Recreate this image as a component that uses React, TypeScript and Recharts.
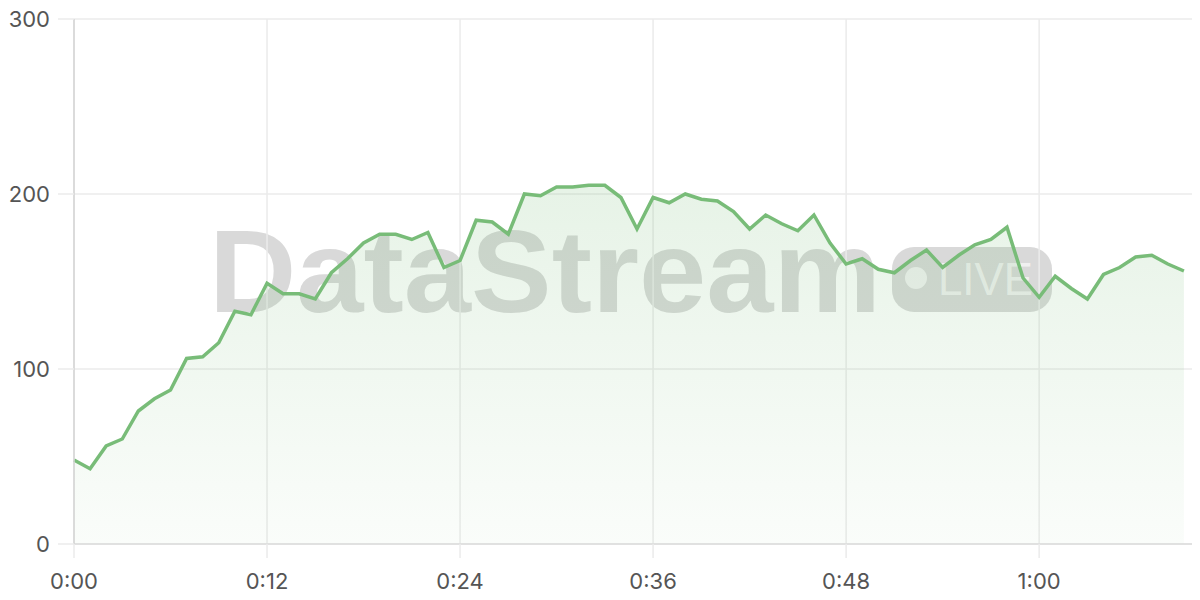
import { AreaChart, Area, XAxis, YAxis, CartesianGrid } from "recharts";

// one reading per second, 0:00 .. 1:09
const VALUES = [
  48, 43, 56, 60, 76, 83, 88, 106, 107, 115,
  133, 131, 149, 143, 143, 140, 155, 163, 172, 177,
  177, 174, 178, 158, 162, 185, 184, 177, 200, 199,
  204, 204, 205, 205, 198, 180, 198, 195, 200, 197,
  196, 190, 180, 188, 183, 179, 188, 172, 160, 163,
  157, 155, 162, 168, 158, 165, 171, 174, 181, 152,
  141, 153, 146, 140, 154, 158, 164, 165, 160, 156,
];

const X_TICKS = [0, 12, 24, 36, 48, 60];
const Y_TICKS = [0, 100, 200, 300];

const LINE = "#78bc78";
const GRID = "#ebebeb";
const FONT = "Inter, 'Noto Sans', sans-serif";

const data = VALUES.map((v, i) => ({ t: i, v }));

function clock(s: number): string {
  const m = Math.floor(s / 60);
  const r = s % 60;
  return `${m}:${r < 10 ? "0" : ""}${r}`;
}

function Watermark() {
  return (
    <svg width={1200} height={600} style={{ position: "absolute", left: 0, top: 0 }}>
      <text
        x={209}
        y={312}
        fontFamily="'Liberation Sans', Arial, sans-serif"
        fontWeight={700}
        fontSize={117}
        textLength={672}
        lengthAdjust="spacingAndGlyphs"
        fill="rgba(120,120,120,0.28)"
      >
        DataStream
      </text>
      <rect x={892} y={247} width={160} height={65} rx={22} fill="rgba(120,120,120,0.28)" />
      <circle cx={916} cy={278} r={11} fill="rgba(255,255,255,0.65)" />
      <text
        x={938}
        y={295}
        fontFamily="'Liberation Sans', Arial, sans-serif"
        fontSize={46}
        textLength={95}
        lengthAdjust="spacingAndGlyphs"
        fill="rgba(255,255,255,0.65)"
      >
        LIVE
      </text>
    </svg>
  );
}

export default function App() {
  return (
    <div style={{ position: "relative", width: 1200, height: 600, margin: -8, background: "#fff" }}>
      <Watermark />
      <div style={{ position: "absolute", left: 0, top: 0 }}>
        <AreaChart width={1200} height={600} data={data} margin={{ top: 19, right: 0, left: 0, bottom: 0 }}>
          <defs>
            <linearGradient id="fill" x1="0" y1="0" x2="0" y2="1">
              <stop offset="0%" stopColor={LINE} stopOpacity={0.3} />
              <stop offset="100%" stopColor={LINE} stopOpacity={0.06} />
            </linearGradient>
          </defs>
          <CartesianGrid stroke={GRID} strokeWidth={1.5} />
          <XAxis
            dataKey="t"
            type="number"
            domain={[0, 70]}
            ticks={X_TICKS}
            tickFormatter={clock}
            height={56}
            tickSize={14}
            tickMargin={15}
            tickLine={{ stroke: GRID, strokeWidth: 1.5 }}
            axisLine={{ stroke: "#dddddd", strokeWidth: 1.5 }}
            tick={{ fill: "#555", fontSize: 22, fontFamily: FONT }}
          />
          <YAxis
            domain={[0, 300]}
            ticks={Y_TICKS}
            width={74}
            tickSize={16}
            tickMargin={8}
            tickLine={{ stroke: GRID, strokeWidth: 1.5 }}
            axisLine={{ stroke: "#d4d4d4", strokeWidth: 1.5 }}
            tick={{ fill: "#555", fontSize: 22, fontFamily: FONT }}
          />
          <Area
            type="linear"
            dataKey="v"
            stroke={LINE}
            strokeWidth={3.5}
            fill="url(#fill)"
            isAnimationActive={false}
            dot={false}
            activeDot={false}
          />
        </AreaChart>
      </div>
    </div>
  );
}
